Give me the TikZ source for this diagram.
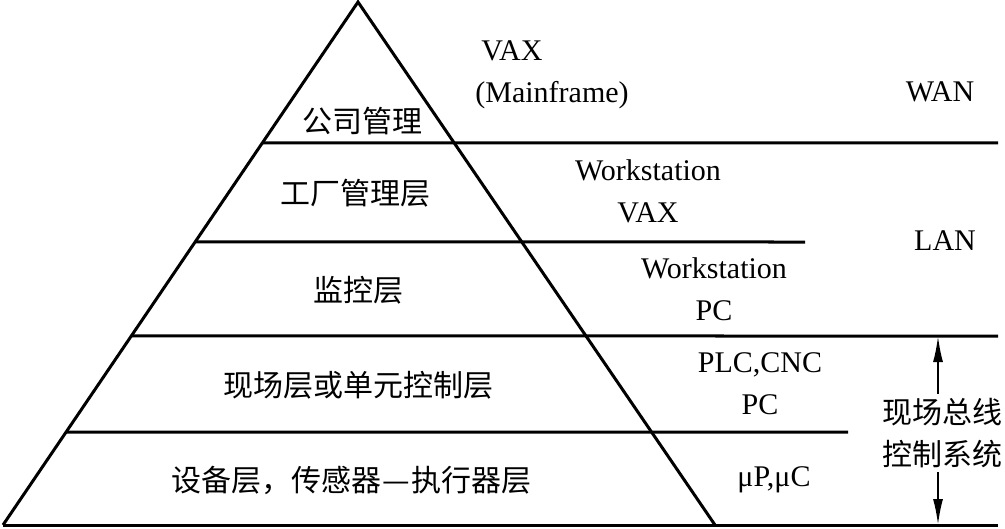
\documentclass[tikz,border=0pt]{standalone}
\usepackage{fontspec}
\setmainfont{Liberation Serif}
\newfontfamily\cjk{Noto Sans CJK SC}
\usepackage{tikz}
\usetikzlibrary{calc,arrows.meta}

\begin{document}
\begin{tikzpicture}[x=0.5pt, y=-0.5pt,
    layer/.style={line width=1.5pt},
    txt/.style={inner sep=0pt, align=center, font=\fontsize{15pt}{21pt}\selectfont},
    zh/.style={txt, font=\fontsize{15pt}{21pt}\selectfont\cjk},
    bus/.style={line width=1pt, -{Latex[length=13pt, width=5pt]}}]

    \useasboundingbox (0,0) rectangle (1005,529);

    % Pyramid
    \coordinate (top) at (358,2);
    \coordinate (bl) at (3,525);
    \coordinate (br) at (715,525);
    \draw[layer, line join=miter] (bl) -- (top) -- (br);

    % Layer lines
    \foreach \yy/\xe in {143/998, 242/805, 336/998, 432/848, 525/998}
        \draw[layer] ($(top)!{(\yy-2)/523}!(bl)$) -- (\xe,\yy);

    % Layer names
    \node[zh] (corp) at (362,121) {公司管理};
    \node[zh] (plant) at (355,193) {工厂管理层};
    \node[zh] (super) at (358,290) {监控层};
    \node[zh] (cell) at (358,385) {现场层或单元控制层};
    \node[zh] (dev) at (351,480) {设备层，传感器\makebox[1em]{\resizebox{0.92em}{\height}{—}}执行器层};

    % Equipment
    \node[txt, align=left, anchor=west] (vax) at (475,75) {\hspace{3pt}VAX\\(Mainframe)};
    \node[txt] (ws1) at (648,191) {Workstation\\VAX};
    \node[txt] (ws2) at (714,289) {Workstation\\PC};
    \node[txt] (plc) at (760,384) {PLC,CNC\\PC};
    \node[txt] (mcu) at (774,480) {μP,μC};

    % Networks
    \node[txt] (wan) at (940,92) {WAN};
    \node[txt] (lan) at (945,241) {LAN};
    \node[zh] (fbus) at (942,433) {现场总线\\控制系统};

    % Field bus range
    \coordinate (fbtop) at (938,336);
    \coordinate (fbbot) at (938,525);
    \draw[bus] (fbus.north -| fbtop) ++(0,-4) -- (fbtop);
    \draw[bus] (fbus.south -| fbbot) ++(0,4) -- (fbbot);
\end{tikzpicture}
\end{document}
